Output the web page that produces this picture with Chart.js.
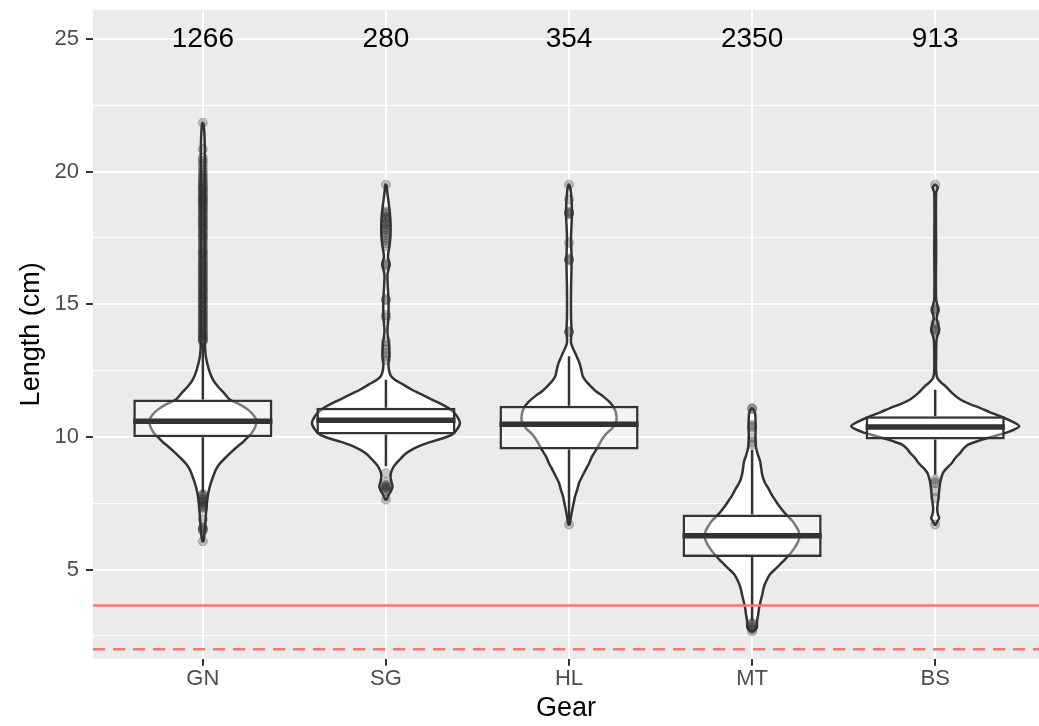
<!DOCTYPE html>
<html>
<head>
<meta charset="utf-8">
<script src="https://cdn.jsdelivr.net/npm/chart.js@4.4.1/dist/chart.umd.min.js"></script>
<style>
  html, body { margin: 0; padding: 0; background: #ffffff; overflow: hidden; }
  canvas { display: block; }
</style>
</head>
<body>
<canvas id="myChart" width="1039" height="726"></canvas>
<script>
// gears and sample sizes
const gears = ['GN', 'SG', 'HL', 'MT', 'BS'];
const counts = [1266, 280, 354, 2350, 913];
const countLevel = 25;

// box statistics (cm)
const q1 = [9.99, 10.09, 9.53, 5.48, 9.9];
const medians = [10.59, 10.63, 10.48, 6.28, 10.38];
const q3 = [11.41, 11.1, 11.18, 7.08, 10.78];
const whiskerLow = [7.9, 8.9, 6.72, 3.05, 8.58];
const whiskerHigh = [13.55, 12.16, 13.04, 9.52, 11.78];

// reference lengths
const refSolid = 3.65;
const refDashed = 2.0;

// violin outlines: length and half width (in gear units)
const gnY = [21.84, 21.5, 20.8, 20.0, 19.0, 18.0, 17.0, 16.0, 15.0, 14.2, 13.55, 13.04, 12.54, 12.16, 11.9, 11.66, 11.41, 11.2, 11.03, 10.85, 10.65, 10.45, 10.28, 10.1, 9.96, 9.8, 9.65, 9.45, 9.27, 9.0, 8.77, 8.52, 8.27, 7.9, 7.5, 7.0, 6.5, 6.07];
const gnW = [0.003, 0.008, 0.011, 0.011, 0.011, 0.011, 0.011, 0.011, 0.011, 0.011, 0.011, 0.016, 0.033, 0.055, 0.082, 0.115, 0.147, 0.208, 0.246, 0.273, 0.292, 0.289, 0.279, 0.262, 0.240, 0.218, 0.191, 0.158, 0.131, 0.093, 0.071, 0.057, 0.044, 0.030, 0.022, 0.016, 0.011, 0.003];

const sgY = [19.51, 19.2, 18.6, 18.1, 17.6, 17.2, 16.8, 16.5, 16.1, 15.18, 14.55, 14.0, 13.5, 13.1, 12.8, 12.54, 12.3, 12.16, 11.98, 11.78, 11.6, 11.41, 11.25, 11.1, 10.95, 10.78, 10.53, 10.28, 10.09, 9.95, 9.84, 9.7, 9.52, 9.35, 9.15, 8.9, 8.7, 8.52, 8.3, 8.14, 7.95, 7.83, 7.64];
const sgW = [0.003, 0.008, 0.019, 0.025, 0.025, 0.019, 0.011, 0.019, 0.008, 0.014, 0.014, 0.008, 0.016, 0.019, 0.014, 0.016, 0.027, 0.049, 0.093, 0.142, 0.197, 0.251, 0.300, 0.339, 0.366, 0.388, 0.404, 0.388, 0.360, 0.311, 0.257, 0.197, 0.142, 0.104, 0.076, 0.044, 0.030, 0.025, 0.030, 0.036, 0.027, 0.016, 0.003];

const hlY = [19.51, 19.2, 18.45, 17.5, 16.7, 15.5, 14.5, 13.98, 13.55, 13.17, 12.79, 12.5, 12.29, 12.1, 11.91, 11.72, 11.53, 11.34, 11.16, 10.97, 10.78, 10.62, 10.47, 10.3, 10.15, 9.97, 9.78, 9.5, 9.27, 9.0, 8.77, 8.5, 8.27, 8.0, 7.76, 7.5, 7.26, 7.0, 6.7];
const hlW = [0.003, 0.011, 0.016, 0.011, 0.014, 0.011, 0.011, 0.014, 0.011, 0.033, 0.057, 0.068, 0.075, 0.093, 0.119, 0.147, 0.186, 0.218, 0.240, 0.254, 0.259, 0.259, 0.251, 0.232, 0.208, 0.186, 0.169, 0.147, 0.126, 0.109, 0.091, 0.071, 0.055, 0.044, 0.033, 0.025, 0.018, 0.011, 0.003];

const mtY = [11.09, 10.9, 10.4, 9.95, 9.59, 9.3, 9.08, 8.85, 8.58, 8.3, 8.08, 7.8, 7.57, 7.3, 7.07, 6.85, 6.63, 6.45, 6.25, 6.05, 5.82, 5.55, 5.31, 5.05, 4.81, 4.55, 4.31, 4.05, 3.8, 3.55, 3.3, 3.05, 2.8, 2.67];
const mtW = [0.003, 0.016, 0.019, 0.018, 0.022, 0.033, 0.044, 0.049, 0.055, 0.068, 0.087, 0.109, 0.131, 0.158, 0.186, 0.218, 0.240, 0.254, 0.259, 0.251, 0.232, 0.202, 0.169, 0.131, 0.096, 0.076, 0.063, 0.055, 0.046, 0.038, 0.033, 0.027, 0.025, 0.003];

const bsY = [19.51, 19.4, 19.2, 17.0, 15.2, 14.8, 14.45, 14.05, 13.7, 13.0, 12.54, 12.23, 12.05, 11.91, 11.65, 11.41, 11.25, 11.09, 10.93, 10.78, 10.6, 10.4, 10.2, 10.02, 9.85, 9.71, 9.55, 9.4, 9.2, 9.02, 8.8, 8.64, 8.45, 8.27, 8.0, 7.76, 7.5, 7.26, 7.05, 6.95, 6.8, 6.7];
const bsW = [0.003, 0.014, 0.005, 0.005, 0.005, 0.016, 0.008, 0.022, 0.008, 0.005, 0.005, 0.011, 0.033, 0.057, 0.093, 0.137, 0.186, 0.246, 0.300, 0.355, 0.415, 0.459, 0.404, 0.317, 0.235, 0.180, 0.153, 0.137, 0.109, 0.091, 0.060, 0.042, 0.033, 0.027, 0.022, 0.019, 0.014, 0.011, 0.016, 0.022, 0.011, 0.003];

// outlying lengths per gear
const gnOut = [21.84, 20.85, 20.52, 20.4, 20.31, 20.18, 20.05, 19.95, 19.86, 19.78, 19.71, 19.64, 19.58, 19.52, 19.47, 19.4, 19.36, 19.33, 19.27, 19.22, 19.15, 19.1, 19.05, 19.0, 18.97, 18.9, 18.86, 18.82, 18.76, 18.71, 18.64, 18.6, 18.55, 18.48, 18.42, 18.37, 18.29, 18.24, 18.2, 18.12, 18.07, 18.03, 17.95, 17.9, 17.86, 17.8, 17.72, 17.66, 17.61, 17.55, 17.5, 17.43, 17.36, 17.28, 17.2, 17.12, 17.05, 16.98, 16.94, 16.9, 16.81, 16.76, 16.72, 16.63, 16.58, 16.55, 16.47, 16.42, 16.38, 16.3, 16.25, 16.21, 16.13, 16.08, 16.05, 15.96, 15.92, 15.88, 15.8, 15.75, 15.71, 15.63, 15.58, 15.55, 15.48, 15.43, 15.39, 15.3, 15.26, 15.22, 15.16, 15.1, 15.05, 14.96, 14.92, 14.88, 14.8, 14.75, 14.71, 14.62, 14.58, 14.55, 14.47, 14.42, 14.38, 14.3, 14.26, 14.22, 14.14, 14.1, 14.06, 13.98, 13.94, 13.9, 13.83, 13.8, 13.76, 13.7, 13.67, 13.64, 13.6, 7.85, 7.8, 7.78, 7.7, 7.66, 7.62, 7.55, 7.52, 7.48, 7.42, 7.38, 7.35, 7.3, 6.9, 6.58, 6.56, 6.5, 6.46, 6.07];
const sgOut = [19.51, 18.5, 18.45, 18.4, 18.3, 18.25, 18.2, 18.1, 18.05, 18.0, 17.9, 17.85, 17.8, 17.7, 17.6, 17.5, 17.4, 17.3, 17.2, 16.55, 16.5, 16.45, 15.2, 15.15, 14.6, 14.5, 13.6, 13.45, 13.3, 13.15, 13.05, 12.9, 8.64, 8.3, 8.2, 8.15, 8.12, 8.1, 8.05, 8.0, 7.95, 7.64];
const hlOut = [19.51, 18.95, 18.5, 18.45, 18.42, 18.4, 17.32, 16.72, 16.69, 16.65, 13.98, 13.95, 6.7];
const mtOut = [11.09, 11.05, 10.45, 10.4, 10.35, 9.97, 9.8, 9.71, 3.0, 2.95, 2.9, 2.85, 2.8, 2.75, 2.67];
const bsOut = [19.51, 14.85, 14.8, 14.75, 14.3, 14.1, 14.05, 14.0, 13.95, 8.4, 8.3, 8.25, 7.95, 7.7, 6.7];

const violinYs = [gnY, sgY, hlY, mtY, bsY];
const violinWs = [gnW, sgW, hlW, mtW, bsW];
const outliers = [gnOut, sgOut, hlOut, mtOut, bsOut];

const boxHalf = 0.38;
const dark = '#333333';
const red = '#F8766D';
const fontFamily = '"Liberation Sans", Arial, Helvetica, sans-serif';

// closed outline: down the right side, back up the left side
function violinOutline(center, ys, ws) {
  const right = ys.map((y, i) => ({x: center + ws[i], y: y}));
  const left = ys.map((y, i) => ({x: center - ws[i], y: y})).reverse();
  return right.concat(left, [right[0]]);
}

let datasets = [];

gears.forEach((g, i) => {
  datasets.push({
    type: 'line',
    label: g + ' violin',
    data: violinOutline(i + 1, violinYs[i], violinWs[i]),
    borderColor: dark,
    borderWidth: 2.5,
    backgroundColor: '#ffffff',
    fill: 'shape',
    tension: 0.3,
    pointRadius: 0,
    order: 10
  });
});

datasets.push({
  type: 'bar',
  label: 'box',
  data: gears.map((g, i) => ({x: i + 1, y: [q1[i], q3[i]]})),
  backgroundColor: 'rgba(255,255,255,0.35)',
  borderColor: dark,
  borderWidth: 2.5,
  borderSkipped: false,
  barPercentage: boxHalf * 2,
  categoryPercentage: 1,
  order: 8
});

let whiskerPts = [];
let medianPts = [];
gears.forEach((g, i) => {
  whiskerPts.push({x: i + 1, y: q3[i]}, {x: i + 1, y: whiskerHigh[i]}, {x: i + 1, y: null});
  whiskerPts.push({x: i + 1, y: q1[i]}, {x: i + 1, y: whiskerLow[i]}, {x: i + 1, y: null});
  medianPts.push({x: i + 1 - boxHalf, y: medians[i]}, {x: i + 1 + boxHalf, y: medians[i]}, {x: i + 1, y: null});
});

datasets.push({
  type: 'line', label: 'whiskers', data: whiskerPts,
  borderColor: dark, borderWidth: 2.5, pointRadius: 0, fill: false, spanGaps: false, order: 9
});
datasets.push({
  type: 'line', label: 'median', data: medianPts,
  borderColor: dark, borderWidth: 5.5, borderCapStyle: 'butt', pointRadius: 0, fill: false, spanGaps: false, order: 7
});

gears.forEach((g, i) => {
  datasets.push({
    type: 'scatter',
    label: g + ' outliers',
    data: outliers[i].map(v => ({x: i + 1, y: v})),
    pointRadius: 4.5,
    pointBackgroundColor: 'rgba(51,51,51,0.27)',
    pointBorderColor: 'rgba(51,51,51,0.3)',
    pointBorderWidth: 1,
    order: 6
  });
});

const xMin = 0.4, xMax = 5.567;
datasets.push({
  type: 'line', label: 'solid ref', data: [{x: xMin, y: refSolid}, {x: xMax, y: refSolid}],
  borderColor: red, borderWidth: 2.5, pointRadius: 0, fill: false, order: 1
});
datasets.push({
  type: 'line', label: 'dashed ref', data: [{x: xMin, y: refDashed}, {x: xMax, y: refDashed}],
  borderColor: red, borderWidth: 2.5, borderDash: [12, 8], pointRadius: 0, fill: false, order: 1
});

const panelBg = {
  id: 'panelBg',
  beforeDraw(chart) {
    const a = chart.chartArea;
    const c = chart.ctx;
    c.save();
    c.fillStyle = '#EBEBEB';
    c.fillRect(a.left, a.top, a.right - a.left, a.bottom - a.top);
    c.restore();
  }
};

const countLabels = {
  id: 'countLabels',
  afterDatasetsDraw(chart) {
    const c = chart.ctx;
    const xs = chart.scales.x, ys = chart.scales.y;
    c.save();
    c.font = '28px ' + fontFamily;
    c.fillStyle = '#000000';
    c.textAlign = 'center';
    c.textBaseline = 'middle';
    counts.forEach((n, i) => {
      c.fillText(String(n), xs.getPixelForValue(i + 1), ys.getPixelForValue(countLevel));
    });
    c.restore();
  }
};

let ctx = document.getElementById('myChart');
let grafico = new Chart(ctx, {
  type: 'line',
  data: { datasets: datasets },
  plugins: [panelBg, countLabels],
  options: {
    responsive: false,
    animation: false,
    devicePixelRatio: 1,
    layout: { autoPadding: false, padding: { top: 10, right: 0, bottom: 0, left: 0 } },
    plugins: { legend: { display: false }, tooltip: { enabled: false } },
    scales: {
      x: {
        type: 'linear',
        min: xMin,
        max: xMax,
        offset: false,
        afterFit: s => { s.height = 67.3; s.paddingLeft = 0; s.paddingRight = 0; },
        border: { display: false },
        grid: { offset: false, color: '#ffffff', lineWidth: 2, tickLength: 7, tickColor: dark, tickWidth: 2 },
        ticks: {
          stepSize: 1,
          includeBounds: false,
          autoSkip: false,
          maxRotation: 0,
          padding: 0,
          color: '#4D4D4D',
          font: { size: 22, family: fontFamily },
          callback: v => gears[v - 1] || ''
        },
        title: {
          display: true, text: 'Gear', color: '#000000',
          font: { size: 27, family: fontFamily },
          padding: { top: 0, bottom: 1 }
        }
      },
      y: {
        type: 'linear',
        min: 1.642,
        max: 26.093,
        afterFit: s => { s.width = 93; s.paddingTop = 0; s.paddingBottom = 0; },
        border: { display: false },
        grid: {
          color: '#ffffff',
          lineWidth: c => (c.tick && c.tick.value % 5 === 0 ? 2 : 1),
          tickLength: 7,
          tickWidth: 2,
          tickColor: c => (c.tick && c.tick.value % 5 === 0 ? dark : 'rgba(0,0,0,0)')
        },
        ticks: {
          stepSize: 2.5,
          includeBounds: false,
          padding: 7,
          color: '#4D4D4D',
          font: { size: 22, family: fontFamily },
          callback: v => (v % 5 === 0 ? String(v) : '')
        },
        title: {
          display: true, text: 'Length (cm)', color: '#000000',
          font: { size: 27, family: fontFamily },
          padding: { top: 15, bottom: 0 }
        }
      }
    }
  }
});
</script>
</body>
</html>
